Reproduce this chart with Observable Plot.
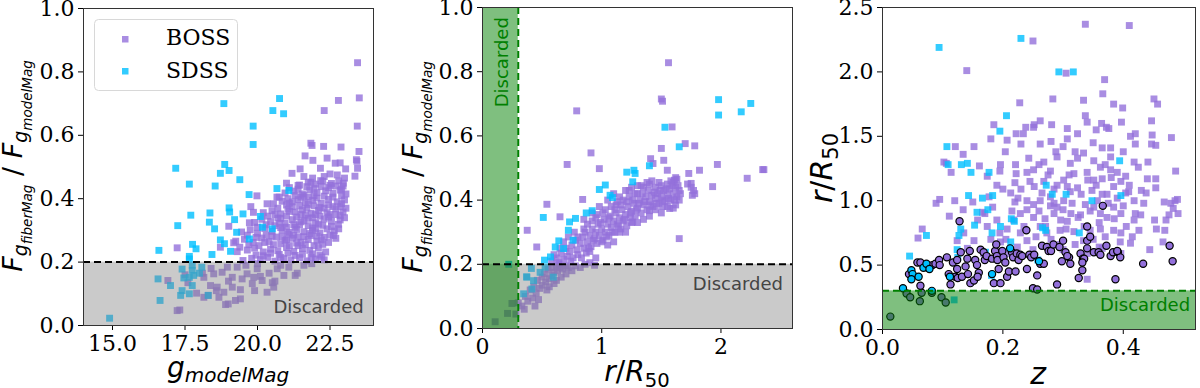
<!DOCTYPE html>
<html><head><meta charset="utf-8">
<script src="https://cdn.jsdelivr.net/npm/d3@7"></script>
<script src="https://cdn.jsdelivr.net/npm/@observablehq/plot@0.6"></script>
<style>
body{margin:0;background:#fff;}
#wrap{position:relative;width:1200px;height:388px;overflow:hidden;background:#fff;}
.panel{position:absolute;top:0;width:400px;height:388px;}
text{white-space:pre;}
</style></head><body><div id="wrap"></div>
<script>
// ---------- Panel 1: g_modelMag vs F_fiber/F_model ----------
const p1Boss = [
[23.45,0.829],[23.51,0.718],[22.79,0.71],[22.3,0.678],[23.44,0.629],[21.84,0.575],[21.88,0.568],[22.28,0.565],[22.88,0.563],[23.5,0.549],
[21.64,0.535],[22.4,0.528],[23.41,0.523],[23.43,0.518],[21.91,0.521],[22.68,0.512],[22.85,0.513],[22.17,0.496],[23.04,0.494],[23.45,0.496],
[23.36,0.471],[21.47,0.494],[21.19,0.48],[22.5,0.478],[22.96,0.449],[22.5,0.442],[22.18,0.457],[21.0,0.449],[21.4,0.442],[21.84,0.452],
[22.9,0.431],[20.67,0.405],[19.98,0.409],[20.33,0.384],[19.77,0.375],[19.86,0.357],[19.72,0.324],[19.01,0.313],[18.72,0.247],[17.23,0.245],
[19.18,0.261],[19.39,0.247],[22.62,0.284],[22.79,0.319],[22.85,0.347],[22.9,0.384],[22.22,0.216],[21.87,0.195],
[19.5,0.205],[19.8,0.212],[20.1,0.208],[20.35,0.215],[20.6,0.203],[20.9,0.211],[21.15,0.206],[21.45,0.214],[21.7,0.204],[22.0,0.21],[22.3,0.207],[19.95,0.222],[20.75,0.224],[21.3,0.221],[21.9,0.226],
[19.3,0.233],[19.65,0.238],[19.9,0.244],[20.2,0.232],[20.45,0.241],[20.7,0.236],[21.0,0.246],[21.25,0.234],[21.55,0.243],[21.8,0.237],[22.1,0.245],[22.35,0.232],[20.05,0.252],[20.55,0.255],[21.4,0.252],
[19.25,0.266],[19.55,0.272],[19.85,0.262],[20.15,0.276],[20.4,0.265],[20.65,0.279],[20.95,0.268],[21.2,0.275],[21.5,0.263],[21.75,0.271],[22.05,0.266],[22.3,0.278],[22.45,0.262],[20.3,0.285],[21.05,0.288],[21.85,0.284],
[19.45,0.295],[19.75,0.302],[20.0,0.291],[20.25,0.306],[20.5,0.297],[20.8,0.309],[21.1,0.294],[21.35,0.303],[21.6,0.296],[21.9,0.308],[22.15,0.292],[22.4,0.305],[22.65,0.298],[20.6,0.315],[21.45,0.318],[22.25,0.316],
[19.9,0.325],[20.15,0.335],[20.45,0.328],[20.7,0.339],[20.95,0.322],[21.2,0.334],[21.5,0.327],[21.75,0.338],[22.0,0.324],[22.3,0.336],[22.55,0.329],[22.85,0.333],[21.0,0.345],[21.65,0.348],
[20.2,0.356],[20.5,0.362],[20.8,0.352],[21.05,0.367],[21.3,0.358],[21.55,0.365],[21.85,0.354],[22.1,0.363],[22.4,0.356],[22.7,0.368],[22.95,0.358],[21.2,0.375],[21.95,0.378],[22.6,0.375],
[20.55,0.384],[20.85,0.392],[21.1,0.386],[21.4,0.397],[21.65,0.388],[21.9,0.395],[22.2,0.385],[22.45,0.398],[22.75,0.39],[23.0,0.396],[21.5,0.405],[22.3,0.408],
[20.95,0.418],[21.25,0.424],[21.55,0.415],[21.8,0.428],[22.05,0.419],[22.35,0.425],[22.6,0.417],[22.85,0.427],[23.05,0.415],
[21.45,0.443],[21.75,0.452],[22.0,0.446],[22.25,0.455],[22.55,0.448],[22.8,0.456],[22.2,0.438],
[21.3,0.31],[21.6,0.33],[21.9,0.3],[21.1,0.36],[21.7,0.37],[22.0,0.35],[21.4,0.28],[21.0,0.27],[21.8,0.29],[22.1,0.32],[21.2,0.39],[21.6,0.41],[22.3,0.37],[21.5,0.35],[21.95,0.41],[21.35,0.26],[20.85,0.3],[20.6,0.35],[22.5,0.35],[22.2,0.27],
[20.2,0.22],[20.45,0.228],[20.8,0.215],[21.05,0.228],[21.55,0.225],[21.85,0.215],[22.15,0.222],
[19.7,0.255],[20.25,0.262],[20.8,0.258],[21.1,0.252],[21.65,0.255],[21.95,0.252],[22.25,0.256],
[19.65,0.285],[19.95,0.278],[20.5,0.282],[20.85,0.28],[21.25,0.285],[21.6,0.28],[22.05,0.282],[22.5,0.285],[22.7,0.275],
[20.3,0.318],[20.75,0.322],[21.0,0.31],[21.25,0.318],[21.75,0.315],[22.0,0.305],[22.55,0.312],[22.8,0.305],[20.0,0.31],
[20.35,0.345],[20.8,0.338],[21.35,0.342],[21.9,0.34],[22.15,0.345],[22.45,0.342],[22.7,0.35],[23.0,0.34],
[20.7,0.37],[21.0,0.38],[21.45,0.378],[21.75,0.382],[22.15,0.372],[22.45,0.38],[22.85,0.375],[23.05,0.37],
[20.75,0.405],[21.05,0.4],[21.3,0.41],[21.75,0.405],[22.05,0.402],[22.6,0.405],[22.9,0.41],
[21.1,0.435],[21.4,0.43],[21.7,0.438],[21.95,0.432],[22.45,0.435],[22.7,0.44],[22.95,0.44],
[21.9,0.465],[22.3,0.47],[22.75,0.475],[23.0,0.465],[21.6,0.47],
[17.23,0.047],[17.32,0.049],[16.91,0.142],[17.9,0.102],[18.15,0.089],[18.58,0.11],[18.99,0.068],[18.9,0.066],[19.41,0.084],[20.33,0.105],[20.56,0.121],[21.3,0.158],[20.1,0.155],
[19.24,0.079],[18.84,0.105],[19.13,0.121],[19.41,0.113],[19.87,0.152],[20.51,0.135],[20.91,0.158],[21.37,0.165],[18.38,0.126],[18.61,0.121],[18.15,0.152],[18.49,0.163],[18.78,0.168],
[19.99,0.179],[20.68,0.179],[21.08,0.184],[19.64,0.163],[19.3,0.184],[18.96,0.184],[20.16,0.142],[19.82,0.132],[19.47,0.147],[19.13,0.152],[18.67,0.089],[18.3,0.095],
[17.6,0.135],[20.4,0.165],[20.8,0.19],[21.6,0.19],[20.0,0.195],[19.6,0.19],[19.0,0.14],[18.4,0.18],[19.9,0.11],[20.6,0.14],[18.1,0.165],[17.5,0.16]
];
const p1Sdss = [
[18.84,0.70],[20.76,0.716],[20.53,0.678],[20.9,0.668],[19.85,0.629],[19.85,0.571],[17.18,0.496],[18.87,0.508],[19.02,0.489],[18.72,0.48],
[19.39,0.46],[17.65,0.446],[18.54,0.44],[19.71,0.413],[20.67,0.432],[21.08,0.426],[19.02,0.371],[19.04,0.358],[19.5,0.352],[17.7,0.348],
[18.36,0.355],[18.34,0.326],[19.21,0.334],[17.25,0.315],[18.52,0.305],[19.28,0.294],[20.1,0.344],[20.17,0.31],[20.51,0.305],[19.72,0.273],
[18.72,0.27],[18.86,0.258],[17.76,0.256],[17.88,0.242],[16.6,0.237],[19.07,0.234],[18.43,0.224],[17.65,0.218],[17.65,0.21],
[17.4,0.178],[16.57,0.147],[17.0,0.126],[16.64,0.079],[14.9,0.023],[17.46,0.15],[17.75,0.174],[17.8,0.158],[17.65,0.152],[18.0,0.165],
[17.4,0.11],[17.35,0.095],[17.75,0.126],[17.65,0.1],[18.3,0.095],[17.75,0.19],[18.08,0.184]
];

// ---------- Panel 2: r/R50 vs F_fiber/F_model ----------
const p2Boss = [
[1.56,0.828],[1.50,0.715],[1.51,0.708],[0.79,0.678],[1.59,0.628],[1.50,0.561],[1.70,0.576],[1.78,0.569],[0.91,0.547],[0.71,0.511],
[0.98,0.498],[1.97,0.511],[2.35,0.495],[2.36,0.495],[2.22,0.468],[1.93,0.442],[1.82,0.493],[1.73,0.483],[1.75,0.452],[1.76,0.415],
[1.57,0.374],[1.65,0.28],[0.375,0.306],[0.455,0.254],[0.54,0.387],[0.65,0.348],[0.84,0.402],[0.94,0.197],[1.26,0.332],[1.40,0.367],
[1.51,0.4],[1.41,0.529],[1.43,0.514],[1.52,0.524],[1.55,0.493],[1.61,0.462],[1.72,0.45],[1.75,0.44],[1.77,0.43],[1.78,0.42],
[0.33,0.07],[0.36,0.1],[0.38,0.085],[0.4,0.12],[0.42,0.095],[0.43,0.13],[0.45,0.11],[0.46,0.15],[0.48,0.125],[0.5,0.16],[0.5,0.135],
[0.52,0.17],[0.53,0.145],[0.55,0.185],[0.56,0.155],[0.58,0.19],[0.58,0.165],[0.6,0.175],[0.62,0.195],[0.63,0.18],[0.65,0.19],[0.67,0.185],
[0.7,0.195],[0.72,0.19],[0.78,0.195],[0.82,0.19],[0.44,0.07],[0.47,0.09],[0.35,0.06],[0.3,0.08],[0.28,0.045],[0.56,0.13],[0.62,0.15],
[0.58,0.21],[0.62,0.22],[0.64,0.205],[0.66,0.235],[0.68,0.215],[0.7,0.25],[0.71,0.225],[0.73,0.24],[0.75,0.26],[0.76,0.22],[0.78,0.275],
[0.79,0.245],[0.8,0.23],[0.82,0.265],[0.84,0.285],[0.85,0.25],[0.86,0.3],[0.87,0.235],[0.88,0.27],[0.9,0.29],[0.91,0.255],[0.92,0.31],
[0.93,0.275],[0.95,0.3],[0.96,0.265],[0.97,0.325],[0.98,0.29],[1.0,0.31],[1.01,0.275],[1.02,0.34],[1.03,0.3],[1.05,0.325],[1.06,0.29],
[1.07,0.35],[1.08,0.315],[1.1,0.335],[1.11,0.3],[1.12,0.36],[1.13,0.325],[1.15,0.345],[1.16,0.31],[1.17,0.37],[1.18,0.335],[1.2,0.355],
[1.21,0.32],[1.22,0.38],[1.24,0.345],[1.25,0.365],[1.27,0.39],[1.28,0.35],[1.3,0.375],[1.32,0.4],[1.33,0.36],[1.35,0.385],[1.37,0.41],
[1.38,0.37],[1.4,0.395],[1.42,0.415],[1.43,0.38],[1.45,0.405],[1.47,0.42],[1.48,0.39],[1.5,0.41],[1.52,0.43],[1.53,0.395],[1.55,0.415],
[1.57,0.435],[1.58,0.4],[1.6,0.42],[1.62,0.44],[1.63,0.41],[1.65,0.43],
[1.25,0.44],[1.3,0.445],[1.35,0.44],[1.4,0.45],[1.45,0.44],[1.5,0.445],[1.55,0.45],[1.6,0.455],[1.62,0.47],[1.63,0.465],[1.38,0.455],
[1.2,0.43],[1.1,0.42],[1.15,0.41],[1.05,0.4],[0.98,0.38],[0.92,0.36],[0.85,0.34],[1.62,0.385],[1.6,0.375],[1.65,0.4],[1.55,0.38],
[1.45,0.37],[1.35,0.34],[1.25,0.33],[1.15,0.3],[1.0,0.27],[0.9,0.24],[1.3,0.42],[0.95,0.345],[1.12,0.385],
[0.6,0.23],[0.65,0.25],[0.68,0.27],[0.72,0.285],[0.74,0.21],[0.77,0.3],[0.8,0.285],[0.83,0.22],[0.85,0.31],[0.88,0.325],[0.89,0.25],
[0.92,0.335],[0.94,0.28],[0.96,0.355],[0.99,0.33],[1.01,0.36],[1.03,0.37],[1.04,0.285],[1.06,0.345],[1.08,0.38],[1.09,0.3],[1.11,0.37],
[1.13,0.395],[1.14,0.32],[1.16,0.385],[1.18,0.4],[1.19,0.34],[1.21,0.395],[1.23,0.41],[1.24,0.36],[1.26,0.4],[1.28,0.42],[1.29,0.37],
[1.31,0.39],[1.34,0.42],[1.36,0.395],[1.39,0.43],[1.41,0.385],[1.44,0.425],[1.46,0.39],[1.49,0.43],[1.51,0.38],[1.54,0.435],[1.56,0.405],
[1.59,0.445],[1.61,0.4],[1.64,0.445],[1.66,0.42],[1.58,0.46],[1.48,0.455],[1.42,0.46],[1.33,0.445],[1.23,0.43],[0.7,0.17],[0.75,0.18],
[0.66,0.16],[0.54,0.12],[0.6,0.14],[0.64,0.2],[0.86,0.2],[0.9,0.205],[0.95,0.22],[1.05,0.26],[1.1,0.27],[1.2,0.3],[1.3,0.33],[1.4,0.35],[1.5,0.36],
[0.106,0.021],[0.21,0.047],[0.247,0.078]
];
const p2Sdss = [
[1.98,0.713],[1.98,0.665],[2.17,0.675],[2.25,0.701],[1.53,0.627],[1.65,0.566],[1.40,0.507],[1.27,0.493],[1.21,0.487],[1.28,0.483],
[1.26,0.457],[1.03,0.447],[0.98,0.433],[1.07,0.415],[1.09,0.408],[0.92,0.367],[0.87,0.36],[0.78,0.343],[0.73,0.332],[0.72,0.306],
[0.76,0.275],[0.64,0.273],[0.61,0.254],[0.68,0.249],[0.51,0.346],[0.52,0.213],[0.57,0.223],[0.41,0.187],[0.37,0.161],[0.22,0.2],
[0.372,0.16],[0.428,0.149],[0.483,0.175],[0.414,0.123],[0.345,0.108],[0.594,0.16],[0.525,0.191]
];

// ---------- Panel 3: z vs r/R50 ----------
const p3Boss = [
[0.25,2.24],[0.337,2.37],[0.41,2.36],[0.14,2.01],[0.305,1.99],[0.228,1.76],[0.283,1.79],[0.369,1.94],[0.366,1.83],[0.384,1.75],
[0.399,1.72],[0.334,1.78],[0.451,1.79],[0.457,1.75],[0.262,1.62],[0.252,1.59],[0.251,1.57],[0.238,1.57],[0.222,1.52],[0.234,1.52],
[0.185,1.59],[0.281,1.59],[0.307,1.56],[0.337,1.66],[0.34,1.61],[0.364,1.60],[0.372,1.57],[0.376,1.56],[0.447,1.62],[0.397,1.61],
[0.355,1.55],[0.324,1.52],[0.412,1.5],[0.42,1.52],[0.48,1.49],[0.448,1.51],[0.447,1.44],[0.454,1.43],[0.42,1.44],[0.365,1.41],
[0.379,1.41],[0.307,1.48],[0.288,1.38],[0.29,1.34],[0.262,1.44],[0.23,1.44],[0.207,1.47],[0.204,1.38],[0.18,1.48],[0.152,1.42],
[0.121,1.42],[0.134,1.36],[0.102,1.30],[0.114,1.22],[0.106,1.29],[0.161,1.27],[0.174,1.19],[0.195,1.23],[0.196,1.28],[0.221,1.28],
[0.222,1.21],[0.243,1.33],[0.251,1.24],[0.268,1.30],[0.279,1.23],[0.312,1.29],[0.324,1.33],[0.334,1.37],[0.351,1.31],[0.379,1.24],
[0.39,1.22],[0.404,1.19],[0.418,1.3],[0.425,1.26],[0.441,1.30],[0.44,1.17],[0.454,1.17],[0.487,1.23],[0.438,1.06],[0.454,1.10],
[0.434,0.98],[0.409,1.07],[0.468,0.99],[0.479,0.98],[0.49,1.01],[0.486,1.0],[0.483,0.94],[0.491,0.9],[0.476,0.89],[0.471,0.85],
[0.469,0.77],[0.455,0.78],[0.452,0.85],[0.429,0.89],[0.418,0.85],[0.426,0.77],[0.412,0.67],[0.466,0.68],[0.444,0.62],[0.089,0.98],
[0.095,1.01],[0.059,0.71],[0.066,0.78],[0.111,0.88],[0.12,1.0],[0.134,0.93],[0.15,0.99],[0.166,0.91],[0.158,0.85],[0.174,0.80],
[0.183,0.95],[0.177,1.03],[0.2,1.09],[0.213,1.06],[0.22,0.99],[0.23,1.09],[0.252,1.11],[0.268,1.15],[0.285,1.09],[0.301,1.16],
[0.318,1.21],[0.341,1.16],[0.365,1.17],[0.362,1.26],[0.379,1.34],[0.396,1.15],[0.348,1.08],[0.357,1.0],[0.337,0.97],[0.329,0.89],
[0.313,0.9],[0.301,1.0],[0.29,0.95],[0.279,1.03],[0.262,1.0],[0.251,0.97],[0.24,0.93],[0.229,0.9],[0.218,0.85],[0.207,0.78],
[0.195,0.75],[0.19,0.85],[0.251,0.87],[0.262,0.80],[0.273,0.75],[0.295,0.77],[0.307,0.84],[0.318,0.76],[0.334,0.69],[0.345,0.77],
[0.362,0.78],[0.373,0.87],[0.384,0.95],[0.396,0.9],[0.384,0.77],[0.396,0.75],[0.396,0.59],[0.365,0.63],[0.34,0.59],[0.34,0.39],
[0.24,0.69],[0.224,0.64],[0.207,0.59],[0.168,0.59],[0.152,0.69],[0.135,0.75],[0.124,0.69],[0.141,0.63],[0.196,0.68],[0.285,0.90],
[0.296,0.85],[0.271,0.80],[0.279,0.96],[0.24,1.0],[0.229,0.75],[0.324,1.10],[0.312,1.07],[0.307,1.11],[0.351,0.95],[0.362,0.9],
[0.373,1.05],[0.351,1.16],[0.384,1.11],[0.404,1.06],[0.418,1.0],
[0.205,0.7],[0.215,0.92],[0.225,1.02],[0.235,0.8],[0.245,1.15],[0.255,0.72],[0.26,0.92],[0.265,1.06],[0.27,0.86],[0.275,1.2],[0.28,0.7],
[0.285,0.98],[0.29,1.12],[0.295,0.66],[0.3,0.93],[0.305,0.78],[0.31,1.2],[0.315,0.98],[0.32,0.66],[0.325,0.87],[0.33,1.05],[0.335,0.8],
[0.34,1.22],[0.345,0.92],[0.35,0.7],[0.355,1.12],[0.36,0.83],[0.365,1.05],[0.37,0.72],[0.375,0.98],[0.38,1.18],[0.385,0.86],[0.39,1.02],
[0.395,0.68],[0.4,0.96],[0.405,0.8],[0.41,1.12],[0.415,0.72],[0.42,0.9],[0.43,1.08],[0.24,1.22],[0.22,1.14],[0.26,1.28],[0.32,1.38],
[0.35,1.45],[0.3,1.42],[0.28,1.46],[0.37,1.28],[0.4,1.38],[0.25,0.62],[0.3,0.62],[0.36,0.64],[0.18,0.7],[0.17,0.9],[0.19,1.12]
];
const p3Sdss = [
[0.094,2.19],[0.23,2.26],[0.293,2.0],[0.317,2.0],[0.206,1.66],[0.195,1.54],[0.107,1.42],[0.109,1.28],[0.131,1.28],[0.141,1.29],
[0.147,1.22],[0.177,1.22],[0.394,1.31],[0.143,1.04],[0.166,1.02],[0.183,1.04],[0.272,1.12],[0.282,1.05],[0.305,1.05],[0.396,1.04],
[0.348,1.0],[0.157,0.91],[0.175,0.93],[0.214,0.86],[0.219,0.84],[0.196,0.80],[0.13,0.78],[0.127,0.73],[0.153,0.81],[0.073,0.73],
[0.182,0.75],[0.266,0.79],[0.271,0.77],[0.213,0.68],[0.327,0.75],[0.045,0.57],[0.124,0.62],[0.125,0.56],[0.171,0.60],[0.181,0.42],
[0.258,0.54],[0.119,0.23]
];
const p3CircBoss = [
[0.013,0.10],[0.040,0.28],[0.046,0.25],[0.062,0.22],[0.065,0.285],[0.082,0.285],[0.098,0.25],[0.105,0.21],[0.044,0.43],[0.058,0.52],
[0.063,0.52],[0.075,0.48],[0.083,0.50],[0.088,0.51],[0.094,0.54],[0.095,0.50],[0.063,0.34],[0.107,0.56],[0.110,0.43],[0.113,0.35],
[0.117,0.52],[0.124,0.54],[0.128,0.84],[0.130,0.60],[0.124,0.47],[0.121,0.41],[0.125,0.40],[0.132,0.41],[0.138,0.49],[0.141,0.55],
[0.142,0.43],[0.145,0.61],[0.146,0.36],[0.152,0.38],[0.154,0.54],[0.157,0.50],[0.160,0.44],[0.158,0.41],[0.163,0.62],[0.168,0.60],
[0.170,0.54],[0.173,0.57],[0.182,0.55],[0.185,0.36],[0.187,0.61],[0.189,0.66],[0.190,0.57],[0.191,0.54],[0.193,0.47],[0.196,0.36],
[0.199,0.61],[0.201,0.56],[0.204,0.52],[0.207,0.41],[0.210,0.45],[0.215,0.60],[0.217,0.56],[0.221,0.45],[0.223,0.59],[0.226,0.54],
[0.229,0.58],[0.232,0.57],[0.239,0.77],[0.240,0.47],[0.244,0.58],[0.247,0.56],[0.250,0.32],[0.252,0.58],[0.257,0.31],[0.257,0.42],
[0.262,0.51],[0.265,0.65],[0.268,0.51],[0.273,0.64],[0.276,0.61],[0.280,0.61],[0.284,0.66],[0.290,0.35],[0.294,0.64],[0.300,0.69],
[0.304,0.60],[0.298,0.53],[0.310,0.56],[0.312,0.51],[0.307,0.57],[0.326,0.40],[0.329,0.59],[0.332,0.46],[0.333,0.55],[0.335,0.55],
[0.340,0.80],[0.340,0.69],[0.345,0.72],[0.351,0.60],[0.359,0.60],[0.362,0.58],[0.366,0.96],[0.372,0.65],[0.379,0.57],[0.383,0.60],
[0.387,0.39],[0.391,0.60],[0.395,0.56],[0.433,0.51],[0.477,0.65],[0.482,0.53],[0.340,0.63],[0.39,0.61],[0.332,0.52]
];
const p3CircSdss = [
[0.034,0.32],[0.082,0.30],[0.048,0.46],[0.05,0.43],[0.048,0.39],[0.06,0.41],[0.068,0.48],[0.073,0.51],[0.078,0.47],[0.112,0.41],
[0.182,0.43],[0.212,0.63],[0.260,0.53]
];

// thresholds and ticks
const fiberCut = 0.2, radiusCut = 0.3;
const p1XTicks = [15, 17.5, 20, 22.5], p1YTicks = [0, 0.2, 0.4, 0.6, 0.8, 1.0];
const p2XTicks = [0, 1, 2], p2YTicks = [0, 0.2, 0.4, 0.6, 0.8, 1.0];
const p3XTicks = [0, 0.2, 0.4], p3YTicks = [0, 0.5, 1.0, 1.5, 2.0, 2.5];
const legendLabels = ["BOSS", "SDSS"];

const SERIF = '"DejaVu Serif", serif';
const SANS = '"DejaVu Sans", sans-serif';
const BOSS_C = "#9370DB", SDSS_C = "#00BFFF";
const wrap = document.getElementById("wrap");
const sq = (data, fill) => Plot.dot(data, {x: d => d[0], y: d => d[1], symbol: "square", r: 3.9, fill, fillOpacity: 0.8, stroke: "none"});

function makePanel(left, m, x, y, marks) {
  const p = Plot.plot({
    width: 400, height: 388,
    marginLeft: m[0], marginRight: m[1], marginTop: m[2], marginBottom: m[3],
    x: {domain: x.domain}, y: {domain: y.domain},
    style: {background: "transparent", overflow: "visible", color: "#000"},
    marks: [
      ...marks,
      Plot.axisX({ticks: x.ticks, tickFormat: x.fmt, tickSize: 5, tickPadding: 5, label: null, fontSize: 22}),
      Plot.axisY({ticks: y.ticks, tickFormat: y.fmt, tickSize: 5, tickPadding: 4, label: null, fontSize: 22}),
      Plot.frame({stroke: "#333"})
    ]
  });
  const div = document.createElement("div");
  div.className = "panel"; div.style.left = left + "px";
  div.appendChild(p); wrap.appendChild(div);
  const s = d3.select(p);
  s.selectAll('[aria-label="x-axis tick label"] text, [aria-label="y-axis tick label"] text')
    .style("font-family", SERIF).style("font-size", "22px");
  return s;
}

function mathText(svg, x, y, rot, parts) {
  const t = svg.append("text").attr("transform", `translate(${x},${y}) rotate(${rot})`)
    .attr("text-anchor", "middle").style("font-family", SANS).attr("fill", "#000");
  let prev = 0;
  for (const p of parts) {
    const b = p.b || 0;
    t.append("tspan").attr("font-size", p.s).attr("font-style", p.i ? "italic" : "normal")
      .attr("dy", b - prev).text(p.t);
    prev = b;
  }
}
const fluxLabel = [
  {t: "F", s: 27, i: 1}, {t: "g", s: 19, i: 1, b: 5}, {t: "fiberMag", s: 13.5, i: 1, b: 10},
  {t: " / ", s: 27, b: 0},
  {t: "F", s: 27, i: 1}, {t: "g", s: 19, i: 1, b: 5}, {t: "modelMag", s: 13.5, i: 1, b: 10}
];
const rR50 = (s) => [{t: "r", s, i: 1}, {t: "/", s}, {t: "R", s, i: 1}, {t: "50", s: s * 0.7, b: s * 0.2}];

// Panel 1
const s1 = makePanel(0, [83, 27, 8, 63],
  {domain: [14, 24], ticks: p1XTicks, fmt: d3.format(".1f")},
  {domain: [0, 1], ticks: p1YTicks, fmt: d3.format(".1f")},
  [
    sq(p1Boss, BOSS_C), sq(p1Sdss, SDSS_C),
    Plot.rect([fiberCut], {x1: () => 14, x2: () => 24, y1: () => 0, y2: d => d, fill: "gray", fillOpacity: 0.42}),
    Plot.ruleY([fiberCut], {stroke: "black", strokeWidth: 2, strokeDasharray: "7,4"}),
    Plot.text(["Discarded"], {x: () => 23.66, y: () => 0.058, textAnchor: "end", lineAnchor: "middle", fontFamily: "DejaVu Sans", fontSize: 18, fill: "#444"})
  ]);
mathText(s1, 228, 377, 0, [{t: "g", s: 28, i: 1}, {t: "modelMag", s: 20, i: 1, b: 5}]);
mathText(s1, 22, 166, -90, fluxLabel);
// legend
const lg = s1.append("g");
lg.append("rect").attr("x", 94.5).attr("y", 19.5).attr("width", 143).attr("height", 71).attr("rx", 4)
  .attr("fill", "#fff").attr("fill-opacity", 0.8).attr("stroke", "#d8d8d8");
[BOSS_C, SDSS_C].forEach((c, i) => {
  lg.append("rect").attr("x", 122).attr("y", 36 + i * 32).attr("width", 6.5).attr("height", 6.5).attr("fill", c).attr("fill-opacity", 0.8);
  lg.append("text").attr("x", 166).attr("y", 45 + i * 33).attr("text-anchor", "start")
    .style("font-family", SERIF).style("font-size", "22px").attr("fill", "#000").text(legendLabels[i]);
});

// Panel 2
const s2 = makePanel(400, [82, 8, 7, 60],
  {domain: [0, 2.6], ticks: p2XTicks, fmt: d3.format("d")},
  {domain: [0, 1], ticks: p2YTicks, fmt: d3.format(".1f")},
  [
    sq(p2Boss, BOSS_C), sq(p2Sdss, SDSS_C),
    Plot.rect([fiberCut], {x1: () => 0, x2: () => 2.6, y1: () => 0, y2: d => d, fill: "gray", fillOpacity: 0.42}),
    Plot.rect([radiusCut], {x1: () => 0, x2: d => d, y1: () => 0, y2: () => 1, fill: "green", fillOpacity: 0.5}),
    Plot.ruleY([fiberCut], {stroke: "black", strokeWidth: 2, strokeDasharray: "7,4"}),
    Plot.ruleX([radiusCut], {stroke: "green", strokeWidth: 2, strokeDasharray: "7,4"}),
    Plot.text(["Discarded"], {x: () => 2.52, y: () => 0.139, textAnchor: "end", lineAnchor: "middle", fontFamily: "DejaVu Sans", fontSize: 18, fill: "#444"}),
    Plot.text(["Discarded"], {x: () => 0.167, y: () => 0.97, rotate: -90, textAnchor: "end", lineAnchor: "middle", fontFamily: "DejaVu Sans", fontSize: 18, fill: "green"})
  ]);
mathText(s2, 237, 381, 0, rR50(28));
mathText(s2, 22, 167, -90, fluxLabel);

// Panel 3
const circ = (data, fill) => Plot.dot(data, {x: d => d[0], y: d => d[1], r: 3.6, fill, stroke: "black", strokeWidth: 1.2});
const s3 = makePanel(800, [82, 5, 7, 59],
  {domain: [0, 0.52], ticks: p3XTicks, fmt: d3.format(".1f")},
  {domain: [0, 2.5], ticks: p3YTicks, fmt: d3.format(".1f")},
  [
    sq(p3Boss, BOSS_C), sq(p3Sdss, SDSS_C),
    circ(p3CircBoss, BOSS_C), circ(p3CircSdss, SDSS_C),
    Plot.rect([radiusCut], {x1: () => 0, x2: () => 0.52, y1: () => 0, y2: d => d, fill: "green", fillOpacity: 0.5}),
    Plot.ruleY([radiusCut], {stroke: "green", strokeWidth: 2, strokeDasharray: "7,4"}),
    Plot.text(["Discarded"], {x: () => 0.511, y: () => 0.186, textAnchor: "end", lineAnchor: "middle", fontFamily: "DejaVu Sans", fontSize: 18, fill: "green"})
  ]);
mathText(s3, 238, 384, 0, [{t: "z", s: 30, i: 1}]);
mathText(s3, 32, 168, -90, rR50(30));
</script></body></html>
